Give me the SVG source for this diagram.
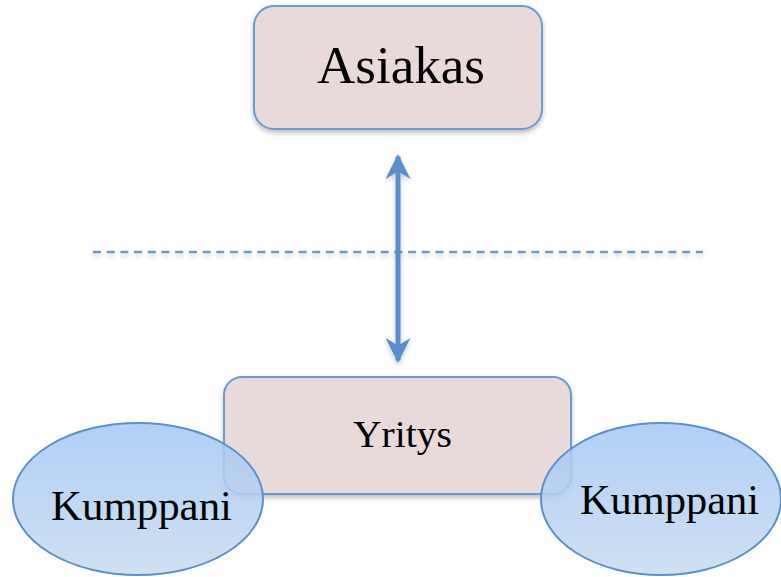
<svg xmlns="http://www.w3.org/2000/svg" width="781" height="577" viewBox="0 0 781 577">
<style>
.box{fill:#e8d9da;stroke:#6c9bcf;stroke-width:2}
.ell{fill:url(#eg);fill-opacity:0.85;stroke:#5d90c8;stroke-width:2}
.lbl{font-family:"Liberation Serif","DejaVu Serif",serif;fill:#000}
.dash{stroke:#6c9bcf;stroke-width:2.5;stroke-dasharray:8 5.7;fill:none}
.conn{stroke:#5b8dcb;stroke-width:5;fill:none}
</style>
<defs>
<linearGradient id="eg" x1="0" y1="0" x2="0" y2="1">
<stop offset="0" stop-color="#a3c7f6"/>
<stop offset="1" stop-color="#c7dbee"/>
</linearGradient>
<filter id="sh" x="-10%" y="-10%" width="120%" height="130%">
<feDropShadow dx="0" dy="3" stdDeviation="2.5" flood-color="#000" flood-opacity="0.25"/>
</filter>
<filter id="shu" filterUnits="userSpaceOnUse" x="0" y="0" width="781" height="577">
<feDropShadow dx="0" dy="3" stdDeviation="2.5" flood-color="#000" flood-opacity="0.2"/>
</filter>
<marker id="ah" viewBox="0 0 10 10" refX="9" refY="5" markerWidth="5" markerHeight="5" orient="auto-start-reverse" markerUnits="strokeWidth">
<path d="M0,0 L10,5 L0,10 L3,5 Z" fill="#5b8dcb"/>
</marker>
</defs>
<g id="connectors">
<line class="dash" x1="93" y1="252" x2="703" y2="252" filter="url(#shu)"/>
<line class="conn" x1="398" y1="156.5" x2="398" y2="360.5" marker-start="url(#ah)" marker-end="url(#ah)" filter="url(#shu)"/>
</g>
<g id="asiakas">
<rect class="box" x="254" y="6" width="288" height="123" rx="20" filter="url(#sh)"/>
<text class="lbl" x="401" y="83" font-size="52" text-anchor="middle" textLength="168" lengthAdjust="spacingAndGlyphs">Asiakas</text>
</g>
<g id="yritys">
<rect class="box" x="224" y="377" width="347" height="117" rx="18" filter="url(#sh)"/>
<text class="lbl" x="402.5" y="447" font-size="38" text-anchor="middle" textLength="99" lengthAdjust="spacingAndGlyphs">Yritys</text>
</g>
<g id="kumppani-left">
<ellipse class="ell" cx="138" cy="499" rx="125" ry="76"/>
<text class="lbl" x="141.5" y="520" font-size="42" text-anchor="middle" textLength="181" lengthAdjust="spacingAndGlyphs">Kumppani</text>
</g>
<g id="kumppani-right">
<ellipse class="ell" cx="661" cy="499" rx="120" ry="76"/>
<text class="lbl" x="669.5" y="514" font-size="42" text-anchor="middle" textLength="179" lengthAdjust="spacingAndGlyphs">Kumppani</text>
</g>
</svg>
